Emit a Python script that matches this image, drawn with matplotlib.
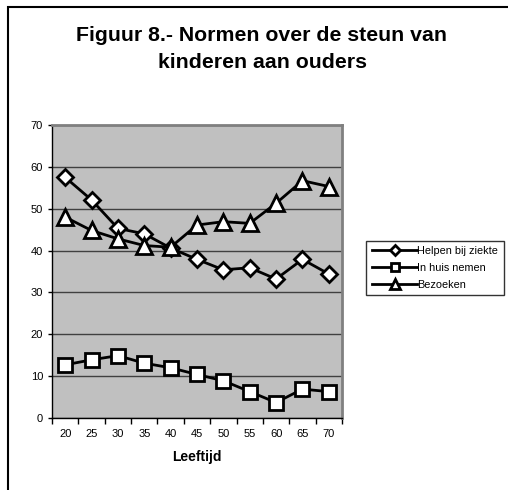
import matplotlib
matplotlib.use("Agg")
import matplotlib.pyplot as plt
from matplotlib.patches import Rectangle

plt.rcParams['font.family'] = ['Liberation Sans', 'DejaVu Sans']

# leeftijdsgroepen en percentages
leeftijd = [20, 25, 30, 35, 40, 45, 50, 55, 60, 65, 70]
helpen = [57.5, 52.1, 45.3, 44.0, 40.6, 37.9, 35.4, 35.9, 33.2, 37.9, 34.4]
in_huis = [12.7, 13.9, 14.9, 13.1, 12.0, 10.4, 8.9, 6.3, 3.7, 6.9, 6.3]
bezoeken = [48.0, 44.8, 42.8, 41.2, 40.8, 46.1, 46.9, 46.5, 51.3, 56.7, 55.3]

fig = plt.figure(figsize=(5.08, 4.90), dpi=100)

# rand om de hele grafiek (rechts/onder buiten beeld)
fig.patches.append(Rectangle((8/508, -0.2), 2, 1.2 - 7/490, transform=fig.transFigure,
                             fill=False, edgecolor='black', linewidth=1.5))

ax = fig.add_axes([52/508, 1 - 418/490, 290/508, 293/490])
ax.set_facecolor('#c0c0c0')

x = list(range(len(leeftijd)))
stijl = dict(color='black', linewidth=2, markerfacecolor='white',
             markeredgecolor='black', markeredgewidth=2)
ax.plot(x, helpen, marker='D', markersize=8, label='Helpen bij ziekte', **stijl)
ax.plot(x, in_huis, marker='s', markersize=10, label='In huis nemen', **stijl)
ax.plot(x, bezoeken, marker='^', markersize=11, label='Bezoeken', **stijl)

ax.set_xlim(-0.5, len(leeftijd) - 0.5)
ax.set_ylim(0, 70)
ax.set_yticks(range(0, 71, 10))
ax.yaxis.grid(True, color='#404040', linewidth=1)
ax.set_axisbelow(True)
ax.tick_params(axis='y', labelsize=8, length=3, width=1)

# tickstreepjes tussen categorieen, labels in het midden
ax.set_xticks([i - 0.5 for i in range(len(leeftijd) + 1)])
ax.set_xticklabels([])
ax.set_xticks(x, minor=True)
ax.set_xticklabels([str(a) for a in leeftijd], minor=True)
ax.tick_params(axis='x', which='major', length=4, width=1)
ax.tick_params(axis='x', which='minor', length=0, labelsize=8, pad=8)

for s in ['top', 'right']:
    ax.spines[s].set_color('#808080')
    ax.spines[s].set_linewidth(2)
for s in ['left', 'bottom']:
    ax.spines[s].set_color('black')
    ax.spines[s].set_linewidth(1)

ax.set_xlabel('Leeftijd', fontsize=10, fontweight='bold', labelpad=8)

fig.text(262/508, 1 - 49/490, 'Figuur 8.- Normen over de steun van\nkinderen aan ouders',
         ha='center', va='center', fontsize=15.3, fontweight='bold', linespacing=1.5)

leg = fig.legend(loc='center', bbox_to_anchor=(435/508, 1 - 268/490), fontsize=7.8,
                 frameon=True, fancybox=False, shadow=False, edgecolor='black',
                 handlelength=4.2, handletextpad=0.0, borderpad=0.5, labelspacing=0.65,
                 borderaxespad=0, markerscale=0.6)
leg.get_frame().set_linewidth(1)

fig.savefig('out.png', dpi=100)
